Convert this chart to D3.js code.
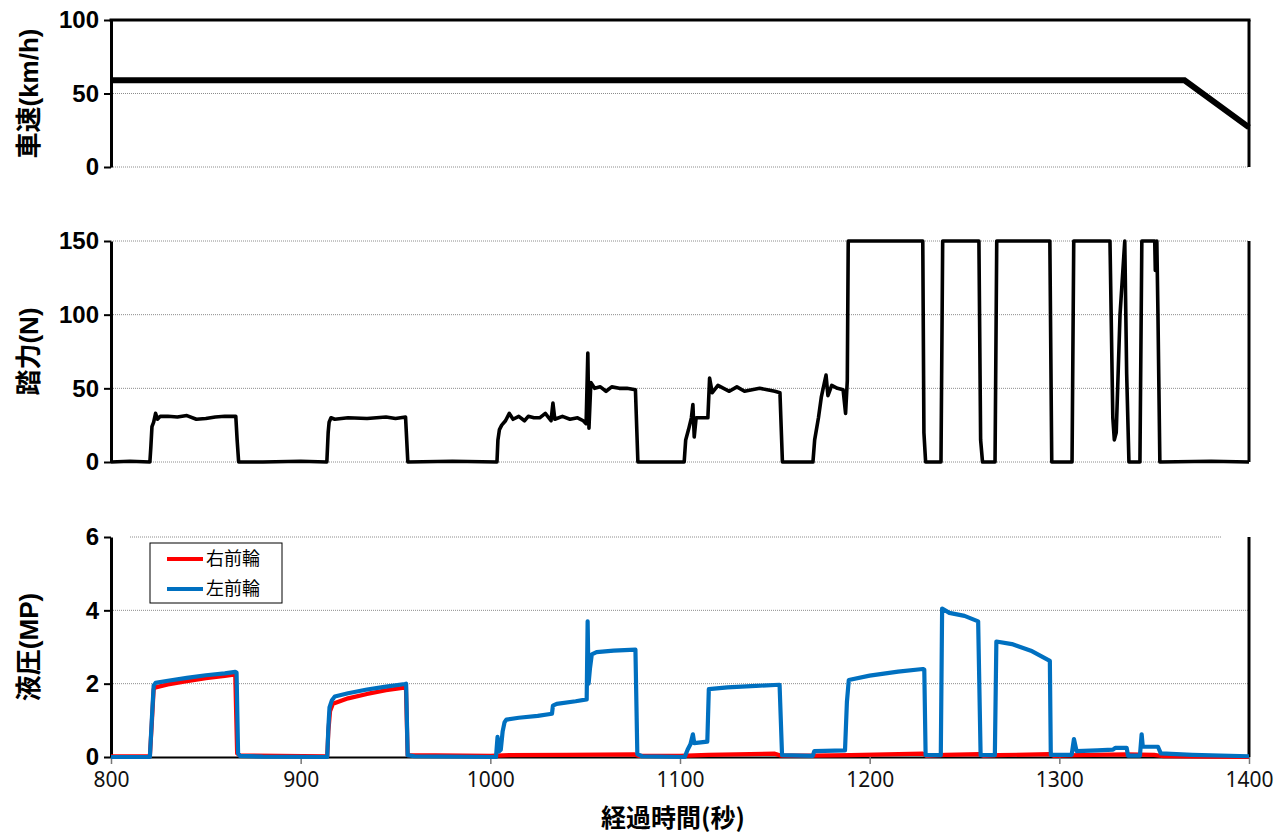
<!DOCTYPE html>
<html>
<head>
<meta charset="utf-8">
<script src="https://cdn.jsdelivr.net/npm/d3@7"></script>
<style>
  body { margin: 0; background: #fff; }
  svg text { font-family: "Liberation Sans", "Noto Sans CJK JP", sans-serif; }
</style>
</head>
<body>
<div id="chart"></div>
<script>
// 経過時間 (秒) の目盛
const timeTicks = [800, 900, 1000, 1100, 1200, 1300, 1400];

// 車速 (km/h)
const speedTicks = [0, 50, 100];
const speedData = [[800, 59], [1000, 59], [1200, 59], [1366, 59], [1400, 27]];

// 踏力 (N)
const pedalTicks = [0, 50, 100, 150];
const pedalData = [
  [800, 0], [810, 0.5], [820.5, 0], [821, 10], [821.6, 24], [822.5, 27], [823.5, 33], [824.5, 29], [826, 31],
  [830, 31], [835, 30.5], [840, 31.5], [845, 29], [850, 29.5], [855, 30.5], [860, 31], [865.8, 31], [866.5, 15],
  [867.3, 0], [880, 0], [900, 0.5], [913.8, 0], [914.5, 20], [915, 27], [916, 30], [918, 29], [925, 30],
  [935, 29.5], [945, 30.5], [950, 29.5], [955.3, 30.5], [956.5, 0], [980, 0.5], [1003.5, 0], [1004, 15],
  [1004.8, 22], [1006, 25], [1008, 28], [1010, 33], [1012, 29], [1015, 31], [1018, 28], [1020, 31], [1023, 30],
  [1026, 30], [1029, 33], [1032, 28], [1033, 40], [1034, 29], [1038, 31], [1042, 29], [1046, 30], [1049, 28],
  [1050.5, 26], [1051.4, 74], [1052, 23], [1053, 54], [1055, 50], [1058, 51], [1061, 48], [1064, 51], [1068, 50],
  [1072, 50], [1076.5, 49], [1077.8, 0], [1090, 0], [1102.2, 0], [1103, 15], [1104.5, 22], [1106, 30],
  [1106.8, 39], [1107.5, 17], [1108.5, 30], [1111, 30], [1114.7, 30], [1115.6, 57], [1117, 47], [1120, 52],
  [1123, 50], [1126, 48], [1130, 51], [1134, 48], [1138, 49], [1142, 50], [1146, 49], [1150, 48], [1152.7, 47],
  [1154, 0], [1165, 0], [1170.1, 0], [1171, 15], [1173, 30], [1174.5, 44], [1176, 53], [1177, 59], [1178, 45],
  [1180, 52], [1183, 50], [1186, 49], [1187.3, 33], [1188.2, 55], [1188.7, 150], [1228, 150], [1228.6, 20],
  [1229.5, 0], [1237.6, 0], [1238.5, 150], [1257.6, 150], [1258.5, 15], [1259.5, 0], [1266.1, 0], [1267, 150],
  [1295, 150], [1296, 0], [1306.7, 0], [1307.6, 150], [1326.7, 150], [1328.2, 30], [1329, 15], [1330, 20],
  [1332, 100], [1333, 120], [1334.5, 150], [1335.5, 60], [1336.7, 0], [1342.5, 0], [1343.5, 150], [1350.3, 150],
  [1350.6, 130], [1351.4, 150], [1352, 100], [1353, 0], [1380, 0.5], [1400, 0]
];

// 液圧 (MP)
const pressureTicks = [0, 2, 4, 6];
const seriesNames = ["右前輪", "左前輪"];
const seriesColors = ["#ff0000", "#0070c0"];
const rightFront = [
  [800, 0.02], [820.5, 0.02], [821.5, 0.9], [822.5, 1.85], [823.5, 1.9], [830, 1.98], [840, 2.07], [850, 2.15],
  [860, 2.21], [865.5, 2.25], [866.5, 0.1], [868, 0.04], [914, 0.02], [914.6, 0.7], [915.5, 1.25], [917, 1.45],
  [925, 1.6], [935, 1.72], [945, 1.82], [955.5, 1.9], [956.4, 0.05], [1000, 0.03], [1010, 0.05], [1040, 0.06],
  [1076, 0.07], [1078, 0.03], [1100, 0.03], [1115, 0.06], [1150, 0.09], [1153, 0.04], [1170, 0.04], [1190, 0.05],
  [1228, 0.09], [1230, 0.03], [1240, 0.06], [1258, 0.08], [1260, 0.03], [1268, 0.05], [1295, 0.08], [1297, 0.03],
  [1310, 0.05], [1335, 0.07], [1350, 0.06], [1355, 0.02], [1380, 0.01], [1400, 0]
];
const leftFront = [
  [800, 0], [820.5, 0], [821.5, 1.0], [822.5, 1.95], [823.5, 2.02], [830, 2.08], [840, 2.16], [850, 2.23],
  [860, 2.28], [865.5, 2.32], [866.2, 2.3], [867, 0.1], [868, 0.03], [880, 0.01], [914, 0], [914.6, 0.8],
  [915.2, 1.35], [916.5, 1.55], [918, 1.65], [925, 1.74], [935, 1.84], [945, 1.92], [955, 1.99], [955.6, 2.0],
  [956.4, 0.05], [960, 0.02], [1003, 0], [1003.8, 0.55], [1004.5, 0.15], [1005.5, 0.2], [1006.5, 0.7],
  [1007.5, 0.95], [1008.5, 1.02], [1015, 1.07], [1025, 1.12], [1032.5, 1.18], [1033, 1.4], [1035, 1.45],
  [1045, 1.52], [1050.8, 1.57], [1051.3, 3.7], [1051.8, 2.0], [1052.5, 2.4], [1053.5, 2.8], [1056, 2.86],
  [1065, 2.9], [1076.5, 2.93], [1077.5, 0.08], [1080, 0.02], [1102.5, 0], [1104, 0.2], [1105.5, 0.35],
  [1106.8, 0.62], [1107.5, 0.38], [1114.4, 0.42], [1115.2, 1.85], [1125, 1.9], [1140, 1.94], [1152.5, 1.97],
  [1153.8, 0.05], [1170, 0.03], [1170.8, 0.16], [1187, 0.18], [1188, 1.5], [1189, 2.1], [1200, 2.22],
  [1215, 2.33], [1228, 2.4], [1228.8, 2.38], [1229.5, 0.05], [1237.5, 0.05], [1238.2, 4.05], [1242, 3.93],
  [1250, 3.85], [1257.2, 3.7], [1258.5, 0.05], [1266, 0.05], [1266.8, 3.15], [1275, 3.08], [1285, 2.9],
  [1295, 2.62], [1295.5, 0.06], [1306.5, 0.06], [1307.7, 0.49], [1309.1, 0.16], [1320, 0.18], [1328.3, 0.2],
  [1329.5, 0.25], [1335.5, 0.25], [1336.2, 0.04], [1342.5, 0.04], [1343.4, 0.62], [1344, 0.28], [1352, 0.28],
  [1353.5, 0.1], [1370, 0.06], [1400, 0.02]
];

const width = 1276, height = 833;
const x = d3.scaleLinear().domain([800, 1400]).range([111, 1249]);

const svg = d3.select("#chart").append("svg")
  .attr("width", width)
  .attr("height", height);

const panels = [
  { title: "車速(km/h)", ticks: speedTicks, domain: [0, 100], range: [167, 20], top: true },
  { title: "踏力(N)", ticks: pedalTicks, domain: [0, 150], range: [462, 241] },
  { title: "液圧(MP)", ticks: pressureTicks, domain: [0, 6], range: [757, 537], bottom: true }
];

panels.forEach(p => {
  p.y = d3.scaleLinear().domain(p.domain).range(p.range);
  const g = svg.append("g");

  // グリッド線
  p.ticks.forEach(t => {
    if (p.top && t === 100) return;
    if (p.bottom && t === 0) return;
    const short = p.bottom && t === 6;
    g.append("line")
      .attr("x1", short ? 130 : x(800)).attr("x2", short ? 1222 : x(1400))
      .attr("y1", p.y(t)).attr("y2", p.y(t))
      .attr("stroke", "#8c8c8c").attr("stroke-width", 1)
      .attr("stroke-dasharray", "1,1");
  });

  // 左軸
  g.append("g")
    .attr("transform", `translate(${x(800)},0)`)
    .call(d3.axisLeft(p.y).tickValues(p.ticks).tickFormat(d3.format("d"))
      .tickSize(7).tickSizeOuter(0).tickPadding(5))
    .call(a => a.select(".domain").attr("stroke-width", 3).attr("stroke", "#000"))
    .call(a => a.selectAll(".tick line").attr("stroke-width", 2))
    .call(a => a.selectAll("text")
      .attr("font-size", 24).attr("font-weight", "bold").attr("fill", "#000")
      .style("font-family", "'Liberation Sans', sans-serif"));

  // 右枠
  g.append("line")
    .attr("x1", x(1400)).attr("x2", x(1400))
    .attr("y1", p.range[1]).attr("y2", p.range[0])
    .attr("stroke", "#000").attr("stroke-width", 3);

  if (p.top) {
    g.append("line")
      .attr("x1", x(800) - 1.5).attr("x2", x(1400) + 1.5)
      .attr("y1", p.y(100)).attr("y2", p.y(100))
      .attr("stroke", "#000").attr("stroke-width", 3);
  }

  // 軸タイトル
  const cy = (p.range[0] + p.range[1]) / 2;
  svg.append("text")
    .attr("transform", `translate(38,${cy}) rotate(-90)`)
    .attr("text-anchor", "middle")
    .attr("font-size", 26).attr("font-weight", "bold")
    .text(p.title);
});

// 下側の時間軸
const xg = svg.append("g").attr("transform", `translate(0,${panels[2].y(0)})`);
xg.call(d3.axisBottom(x).tickValues(timeTicks).tickFormat(d3.format("d"))
    .tickSize(7).tickSizeOuter(0).tickPadding(8))
  .call(a => a.select(".domain").attr("stroke", "#000").attr("stroke-width", 2))
  .call(a => a.selectAll(".tick line").attr("stroke", "#777").attr("stroke-width", 1.5))
  .call(a => a.selectAll("text").attr("font-size", 21).attr("fill", "#111")
    .style("font-family", "'Noto Sans', sans-serif"));

svg.append("text")
  .attr("x", 673).attr("y", 827)
  .attr("text-anchor", "middle")
  .attr("font-size", 25).attr("font-weight", "bold")
  .style("font-family", "'Noto Sans CJK JP', sans-serif")
  .text("経過時間(秒)");

// データ線
const lineOf = y => d3.line().x(d => x(d[0])).y(d => y(d[1]));

svg.append("path").datum(speedData)
  .attr("d", lineOf(panels[0].y))
  .attr("fill", "none").attr("stroke", "#000").attr("stroke-width", 6);

svg.append("path").datum(pedalData)
  .attr("d", lineOf(panels[1].y))
  .attr("fill", "none").attr("stroke", "#000").attr("stroke-width", 3.6)
  .attr("stroke-linejoin", "round");

[rightFront, leftFront].forEach((s, i) => {
  svg.append("path").datum(s)
    .attr("d", lineOf(panels[2].y))
    .attr("fill", "none").attr("stroke", seriesColors[i]).attr("stroke-width", 4.2)
    .attr("stroke-linejoin", "round");
});

// 凡例
const lg = svg.append("g");
lg.append("rect")
  .attr("x", 150).attr("y", 543).attr("width", 132).attr("height", 60)
  .attr("fill", "#fff").attr("stroke", "#000").attr("stroke-width", 1);
seriesNames.forEach((n, i) => {
  const yy = 559 + i * 30;
  lg.append("line")
    .attr("x1", 167).attr("x2", 203).attr("y1", yy).attr("y2", yy)
    .attr("stroke", seriesColors[i]).attr("stroke-width", 4);
  lg.append("text")
    .attr("x", 206).attr("y", yy)
    .attr("dy", "0.35em")
    .attr("font-size", 18)
    .style("font-family", "'Noto Sans CJK JP', sans-serif")
    .text(n);
});
</script>
</body>
</html>
